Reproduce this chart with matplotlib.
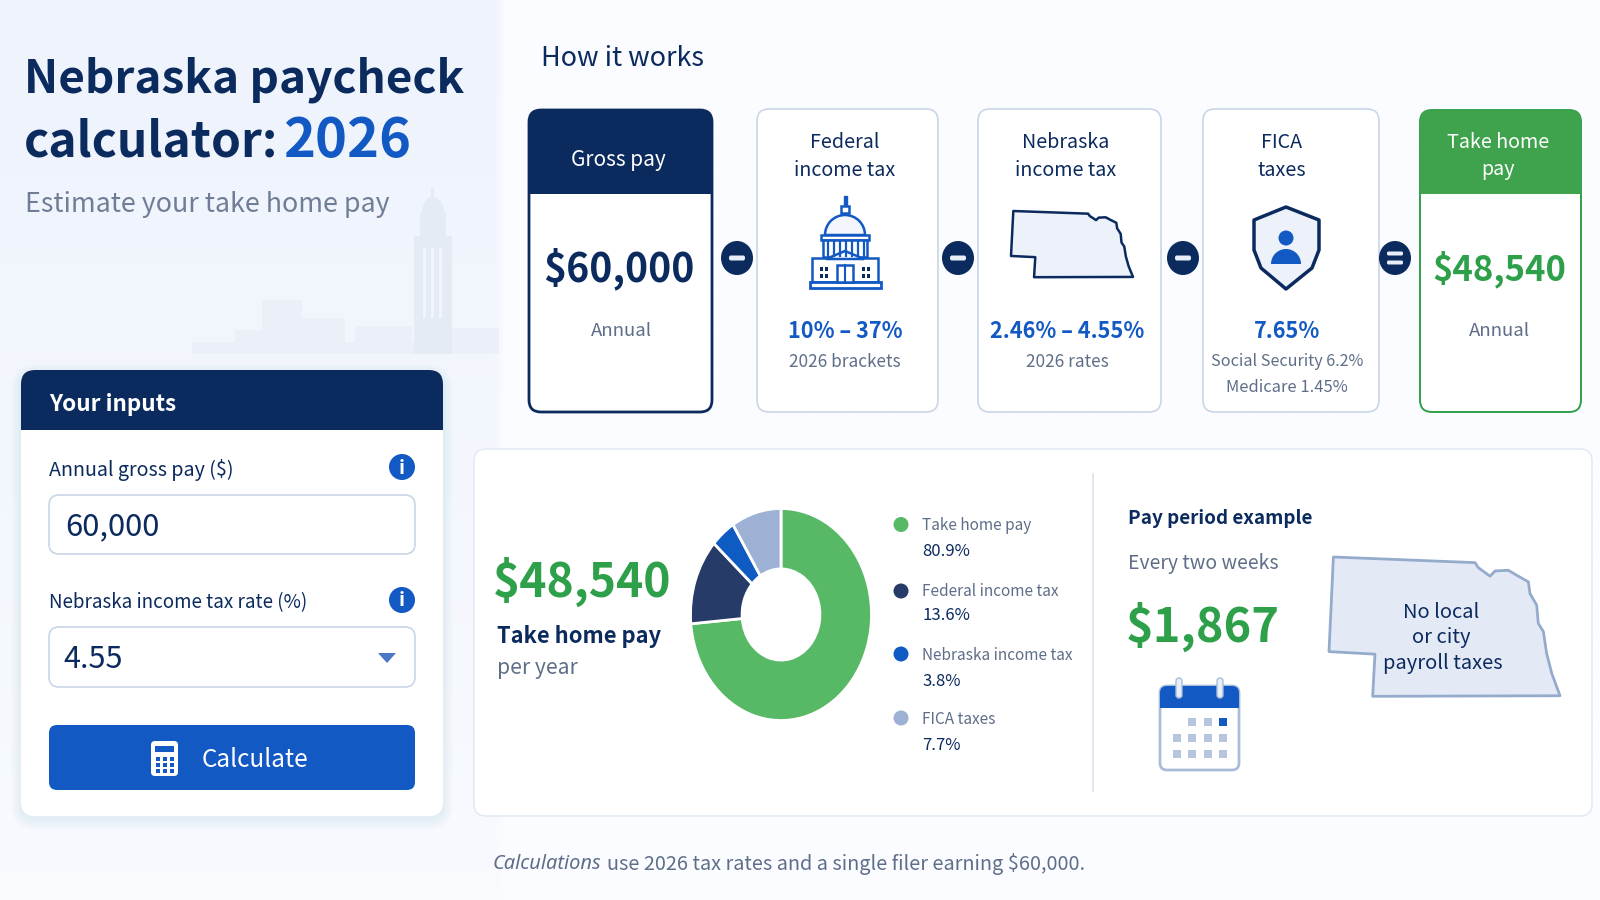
import numpy as np
import matplotlib
matplotlib.use('Agg')
import matplotlib.pyplot as plt
from matplotlib.patches import FancyBboxPatch, Rectangle, Circle, Ellipse, Polygon, Wedge

plt.rcParams['font.family'] = ['Noto Sans CJK SC', 'DejaVu Sans']

# data
donut_labels = ['Take home pay', 'Federal income tax', 'Nebraska income tax', 'FICA taxes']
donut_printed = ['80.9%', '13.6%', '3.8%', '7.7%']
donut_drawn = [73.6, 13.1, 4.4, 8.9]  # share of the ring as it is drawn
donut_colors = ['#57B866', '#263B68', '#0F5BC4', '#9CB1D4']

gross_pay = '$60,000'
take_home = '$48,540'
biweekly = '$1,867'

NAVY = '#0B2A5E'
BLUE = '#1259C3'
GREEN = '#2FA04A'
GREY = '#5F6E88'
LINE = '#C9D6E8'

# nebraska outline, 0-1 in its own box
ne_outline = [(.019, 0), (.632, .04), (.646, .075), (.697, .136), (.719, .099), (.776, .094),
              (.812, .129), (.863, .176), (.870, .259), (.899, .341), (.906, .471), (.928, .529),
              (.942, .682), (.964, .824), (1, .984), (.189, .988), (.199, .689), (0, .671)]

fig = plt.figure(figsize=(16, 9), dpi=100)
ax = fig.add_axes([0, 0, 1, 1])

# background
xx, yy = np.meshgrid(np.linspace(0, 1, 160), np.linspace(0, 1, 90))
bg = np.ones((90, 160, 3)) * np.array([251, 252, 255]) / 255
left_tint = np.array([238, 243, 252]) / 255
mix = np.clip(1 - yy * 0.8, 0, 1) * (xx < 499 / 1600)
bg = bg * (1 - mix[..., None]) + left_tint * mix[..., None]
ax.imshow(bg, extent=(0, 1600, 900, 0), aspect='auto', interpolation='bilinear', zorder=0)
ax.set_xlim(0, 1600)
ax.set_ylim(900, 0)
ax.axis('off')


def txt(x, y, s, size, color=NAVY, ha='left', weight='normal', style='normal', family=None):
    return ax.text(x, y, s, fontsize=size, color=color, ha=ha, va='center', fontweight=weight,
                   fontstyle=style, family=family, zorder=10)


def rbox(x0, y0, x1, y1, r, fc='white', ec='none', lw=1.2, z=3, alpha=None):
    p = FancyBboxPatch((x0, y0), x1 - x0, y1 - y0, boxstyle=f'round,pad=0,rounding_size={r}',
                       fc=fc, ec=ec, lw=lw, zorder=z, alpha=alpha)
    ax.add_patch(p)
    return p


def nebraska(x0, y0, x1, y1, fc, ec, lw):
    pts = [(x0 + u * (x1 - x0), y0 + v * (y1 - y0)) for u, v in ne_outline]
    ax.add_patch(Polygon(pts, closed=True, fc=fc, ec=ec, lw=lw, joinstyle='round', zorder=5))


def shadow(x0, y0, x1, y1, r):
    for g in range(1, 11):
        rbox(x0 - g, y0 - g + 4, x1 + g, y1 + g + 4, r + g, fc='#5A78B4', z=2, alpha=0.008)


# faint skyline
sky = '#EBF0F8'
sky2 = '#E5EBF5'
for bx0, by0, bx1 in [(192, 342, 499), (235, 330, 262), (262, 300, 302), (302, 318, 345), (355, 326, 412), (452, 328, 499)]:
    ax.add_patch(Rectangle((bx0, by0), bx1 - bx0, 354 - by0, fc=sky, ec='none', zorder=1))
ax.add_patch(Rectangle((414, 236), 38, 118, fc=sky2, ec='none', zorder=1))
ax.add_patch(Rectangle((420, 212), 26, 26, fc=sky2, ec='none', zorder=1))
ax.add_patch(Ellipse((433, 212), 22, 30, fc=sky2, ec='none', zorder=1))
ax.add_patch(Rectangle((431, 188), 3, 14, fc=sky2, ec='none', zorder=1))
for tx in [423, 431, 439]:
    ax.add_patch(Rectangle((tx, 248), 3, 70, fc='#F1F5FB', ec='none', zorder=1))

# title
txt(24, 80, 'Nebraska paycheck', 33, weight='bold')
txt(24, 142, 'calculator:', 34.5, weight='bold')
txt(283, 142, '2026', 39, color=BLUE, weight='bold')
txt(25, 204, 'Estimate your take home pay', 19.3, color='#6F7E96')

# inputs panel
shadow(21, 370, 443, 816, 16)
card = rbox(21, 370, 443, 816, 14)
head = Rectangle((21, 370), 422, 60, fc=NAVY, ec='none', zorder=4)
ax.add_patch(head)
head.set_clip_path(card)
txt(49, 405, 'Your inputs', 16.2, color='white', weight='bold')
txt(49, 470, 'Annual gross pay ($)', 14.2)
rbox(49, 495, 415, 554, 10, ec=LINE)
txt(65, 527, '60,000', 22.3)
txt(49, 603, 'Nebraska income tax rate (%)', 13.5)
rbox(49, 627, 415, 687, 10, ec=LINE)
txt(63, 660, '4.55', 22)
ax.add_patch(Polygon([(378, 653), (396, 653), (387, 663)], fc='#4A78C4', ec='none', zorder=5))
for iy in [467, 600]:
    ax.add_patch(Circle((402, iy), 13, fc=BLUE, ec='none', zorder=5))
    txt(402, iy + 1, 'i', 14, color='white', ha='center', weight='bold')
rbox(49, 725, 415, 790, 8, fc=BLUE)
txt(202, 760, 'Calculate', 17.5, color='white')
# calculator icon
rbox(151, 741, 178, 776, 4, fc='white', z=5)
ax.add_patch(Rectangle((155, 746), 19, 6, fc=BLUE, zorder=6))
for cy in [757, 763, 769]:
    for cx in [155.5, 162.5, 169.5]:
        ax.add_patch(Rectangle((cx, cy), 4, 4, fc=BLUE, zorder=6))

# how it works
txt(541, 58, 'How it works', 19.4)

rbox(529, 110, 712, 412, 12, ec=NAVY, lw=2)
card = rbox(529, 110, 712, 412, 12, fc='none', z=3)
head = Rectangle((529, 110), 183, 84, fc=NAVY, ec='none', zorder=4)
ax.add_patch(head)
head.set_clip_path(card)
txt(618, 160, 'Gross pay', 15, color='white', ha='center')
txt(619, 269, gross_pay, 28.1, ha='center', weight='bold')
txt(621, 331, 'Annual', 13.4, color=GREY, ha='center')

for x0, x1 in [(757, 938), (978, 1161), (1203, 1379)]:
    rbox(x0, 109, x1, 412, 12, ec=LINE)

txt(845, 143, 'Federal', 14.2, ha='center')
txt(845, 170, 'income tax', 14.2, ha='center')
txt(845, 331, '10% – 37%', 15.6, color=BLUE, ha='center', weight='bold')
txt(845, 362, '2026 brackets', 12.4, color=GREY, ha='center')

txt(1066, 143, 'Nebraska', 14.2, ha='center')
txt(1066, 170, 'income tax', 14.2, ha='center')
txt(1067, 331, '2.46% – 4.55%', 15.6, color=BLUE, ha='center', weight='bold')
txt(1067, 362, '2026 rates', 12.4, color=GREY, ha='center')

txt(1282, 143, 'FICA', 14.2, ha='center')
txt(1282, 170, 'taxes', 14.2, ha='center')
txt(1287, 331, '7.65%', 15.6, color=BLUE, ha='center', weight='bold')
txt(1287, 362, 'Social Security 6.2%', 11.6, color=GREY, ha='center')
txt(1287, 388, 'Medicare 1.45%', 11.9, color=GREY, ha='center')

rbox(1420, 110, 1581, 412, 12, ec=GREEN, lw=1.4)
card = rbox(1420, 110, 1581, 412, 12, fc='none', z=3)
head = Rectangle((1420, 110), 161, 84, fc='#3FA34D', ec='none', zorder=4)
ax.add_patch(head)
head.set_clip_path(card)
txt(1498, 143, 'Take home', 14.2, color='white', ha='center')
txt(1498, 170, 'pay', 14.2, color='white', ha='center')
txt(1499, 269, take_home, 25, color=GREEN, ha='center', weight='bold')
txt(1499, 331, 'Annual', 13.4, color=GREY, ha='center')

# operators between cards
for cx, glyph in [(737, '-'), (958, '-'), (1183, '-'), (1395, '=')]:
    ax.add_patch(Ellipse((cx, 258), 32, 34, fc=NAVY, ec='none', zorder=6))
    if glyph == '-':
        rbox(cx - 8, 255.5, cx + 8, 260.5, 2, fc='#E8EEF8', z=7)
    else:
        rbox(cx - 8, 251.5, cx + 8, 255.5, 1.5, fc='#E8EEF8', z=7)
        rbox(cx - 8, 260.5, cx + 8, 264.5, 1.5, fc='#E8EEF8', z=7)

# capitol icon
cap = dict(fc='white', ec=BLUE, lw=1.8, zorder=5)
ax.add_patch(Rectangle((843.5, 196), 3, 11, fc=BLUE, ec=BLUE, zorder=5))
ax.add_patch(Rectangle((841, 206), 8, 7, **cap))
ax.add_patch(Wedge((845, 235), 20, 180, 360, fc='#F3F6FC', ec=BLUE, lw=1.8, zorder=5))
ax.add_patch(Rectangle((821, 235), 48, 5, **cap))
ax.add_patch(Rectangle((823, 240), 44, 17, **cap))
for cx in range(828, 866, 6):
    ax.plot([cx, cx], [241, 256], color=BLUE, lw=1.6, zorder=6)
ax.add_patch(Rectangle((812, 258), 66, 24, **cap))
ax.add_patch(Polygon([(826, 259), (845, 251), (864, 259)], **cap))
ax.add_patch(Rectangle((810, 282), 71, 6, fc='white', ec=BLUE, lw=2, zorder=5))
ax.add_patch(Rectangle((837, 265), 16, 17, **cap))
ax.plot([845, 845], [265, 282], color=BLUE, lw=1.5, zorder=6)
for wx in [820, 862]:
    for dx in [0, 5]:
        for wy in [267, 274]:
            ax.add_patch(Rectangle((wx + dx, wy), 3, 4, fc=NAVY, ec='none', zorder=6))

nebraska(1011, 211, 1133, 278, '#EDF2FA', NAVY, 1.8)

# shield icon
shield = [(1286, 207), (1319, 220), (1319, 250), (1312, 268), (1286, 289), (1261, 268), (1254, 250), (1254, 220)]
ax.add_patch(Polygon(shield, fc='#EDF2FA', ec=NAVY, lw=2.5, joinstyle='round', zorder=5))
ax.add_patch(Circle((1286, 238), 7.5, fc=BLUE, ec='none', zorder=6))
ax.add_patch(Wedge((1286, 264), 15, 180, 360, fc=BLUE, ec='none', zorder=6))

# lower panel
rbox(474, 449, 1592, 816, 12, ec='#E2E9F3', lw=1.1)
ax.plot([1093, 1093], [474, 791], color='#D6E0EE', lw=1.1, zorder=4)
txt(493, 582, take_home, 33.3, color=GREEN, weight='bold')
txt(497, 636, 'Take home pay', 15.8, weight='bold')
txt(497, 668, 'per year', 15.2, color=GREY)

dax = fig.add_axes([690.5 / 1600, 1 - 720.5 / 900, 181 / 1600, 212 / 900])
dax.pie(donut_drawn, colors=donut_colors, startangle=90, counterclock=False, radius=1,
        wedgeprops=dict(width=0.57, edgecolor='white', linewidth=2))
dax.set_aspect('auto')
dax.set_xlim(-1.0, 1.0)
dax.set_ylim(-1.0, 1.0)

legend_y = [524.5, 591, 654, 718]
value_y = [551, 615, 680, 744]
for lab, val, col, ly, vy in zip(donut_labels, donut_printed, donut_colors, legend_y, value_y):
    ax.add_patch(Circle((901, ly), 7.5, fc=col, ec='none', zorder=5))
    txt(922, ly + 1, lab, 11.1, color=GREY)
    txt(922, vy + 1, val, 12)

txt(1128, 518, 'Pay period example', 13.6, weight='bold')
txt(1128, 563, 'Every two weeks', 14, color=GREY)
txt(1126, 627, biweekly, 33.8, color=GREEN, weight='bold')

# calendar icon
rbox(1160, 686, 1239, 770, 7, ec='#A9BDD9', lw=2)
cal = rbox(1160, 686, 1239, 770, 7, fc='none', z=3)
head = Rectangle((1160, 686), 79, 22, fc=BLUE, ec='none', zorder=4)
ax.add_patch(head)
head.set_clip_path(cal)
for rx in [1179, 1220]:
    rbox(rx - 3, 678, rx + 3, 698, 3, fc='#E9EFF8', ec='#A9BDD9', lw=1, z=5)
for row, cy in enumerate([722, 738, 753.5]):
    for col, cx in enumerate([1177, 1192, 1208, 1223]):
        if row == 0 and col == 0:
            continue
        c = BLUE if (row == 0 and col == 3) else '#B7C6DC'
        ax.add_patch(Rectangle((cx - 4, cy - 4), 8, 8, fc=c, ec='none', zorder=5))

nebraska(1329, 557, 1560, 698, '#E4EAF5', '#95ABCB', 2)
txt(1441, 612, 'No local', 14.5, ha='center')
txt(1441, 638, 'or city', 14.5, ha='center')
txt(1443, 664, 'payroll taxes', 14.5, ha='center')

# footer
t = txt(493, 864, 'Calculations', 14.4, color=GREY, style='italic', family='Noto Sans')
r = fig.canvas.get_renderer()
end = ax.transData.inverted().transform(t.get_window_extent(r).get_points())[1][0]
txt(end + 5, 864, 'use 2026 tax rates and a single filer earning $60,000.', 14.3, color=GREY)

fig.savefig('out.png', dpi=100)
